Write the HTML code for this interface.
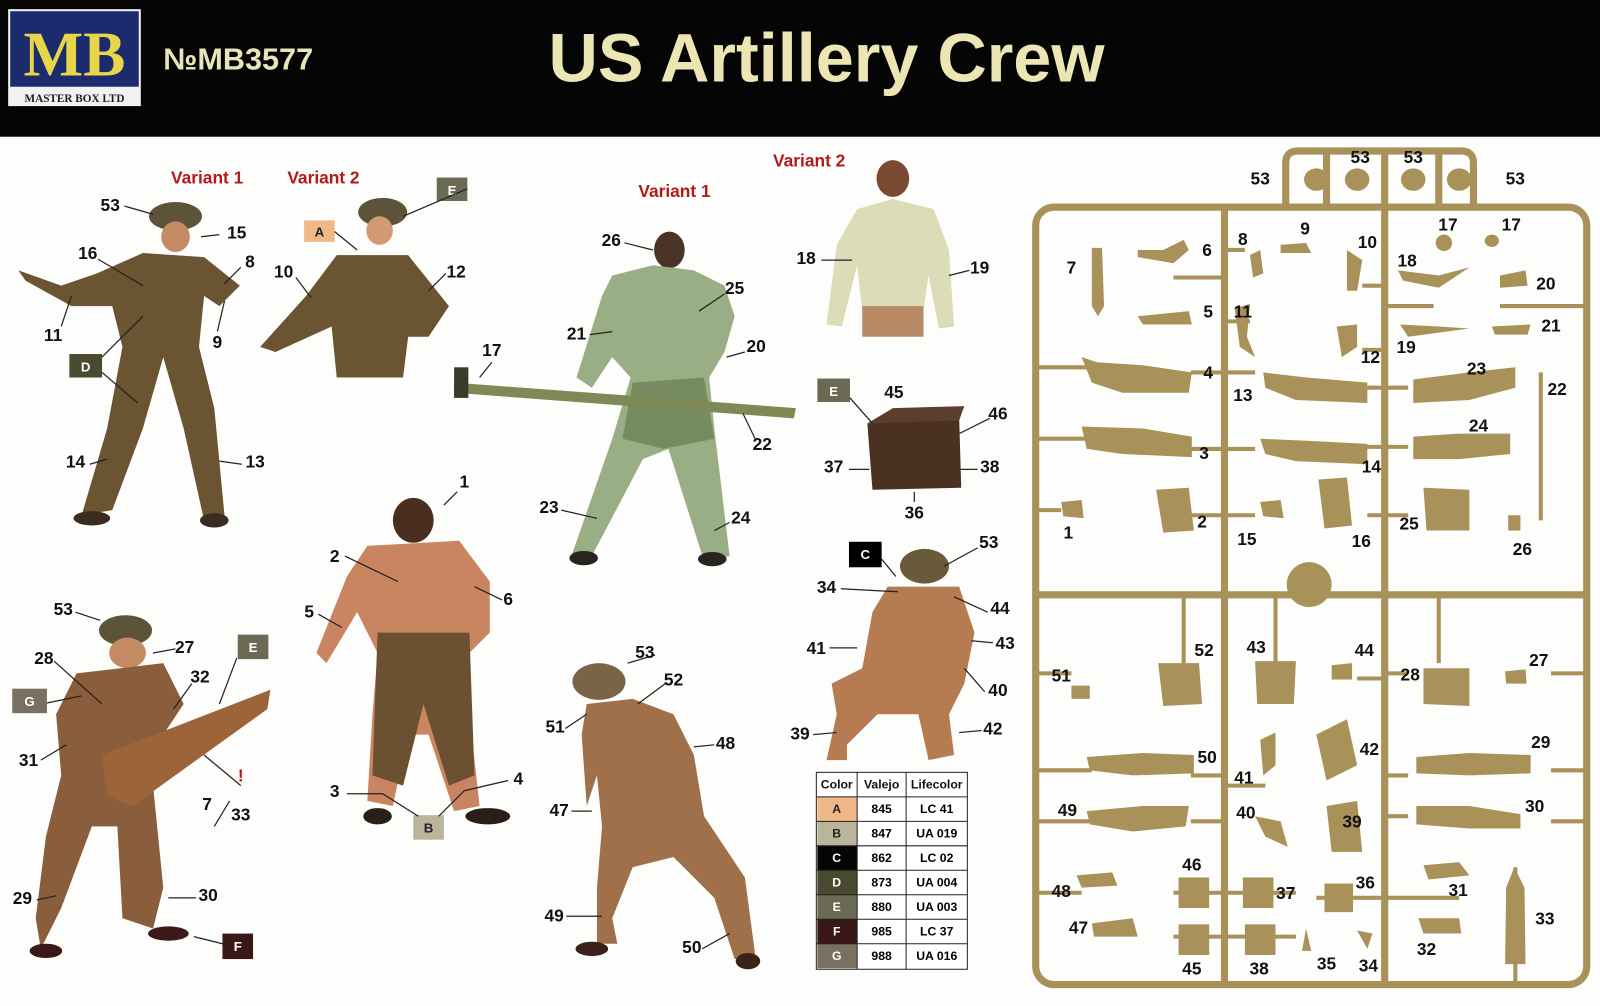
<!DOCTYPE html>
<html><head><meta charset="utf-8"><style>
html,body{margin:0;padding:0;background:#fff;}
svg{display:block;}
text{font-family:"Liberation Sans",sans-serif;font-weight:bold;}
</style></head><body>
<svg width="1600" height="1006" viewBox="0 0 1568 986" preserveAspectRatio="none" xmlns="http://www.w3.org/2000/svg">
<rect width="1568" height="986" fill="#fdfdfb"/>
<!-- header -->
<rect width="1568" height="134" fill="#050505"/>
<rect x="8" y="9" width="130" height="95" fill="#f2f2f2"/>
<rect x="10" y="11" width="126" height="74" fill="#1c2a6e"/>
<text x="73" y="74" font-size="62" fill="#e8d64a" text-anchor="middle" style="font-family:'Liberation Serif',serif">MB</text>
<text x="73" y="100" font-size="11" fill="#1a1a2a" text-anchor="middle" style="font-family:'Liberation Serif',serif">MASTER BOX LTD</text>
<text x="160" y="68" font-size="30" fill="#e8e6b8">№MB3577</text>
<text x="810" y="80" font-size="67" fill="#ece6b4" text-anchor="middle">US Artillery Crew</text>

<!-- variant labels -->
<g fill="#b3191b" font-size="17" text-anchor="middle">
<text x="203" y="180">Variant 1</text><text x="317" y="180">Variant 2</text>
<text x="661" y="193">Variant 1</text><text x="793" y="163">Variant 2</text>
</g>

<!-- figures (approximations) -->
<g>
<ellipse cx="172" cy="212" rx="26" ry="14" fill="#5c5338"/>
<ellipse cx="172" cy="232" rx="14" ry="15" fill="#c48a64"/>
<path d="M18 265 L60 280 L95 268 L140 248 L200 252 L235 280 L215 300 L200 290 L195 340 L210 400 L220 505 L200 510 L180 420 L160 350 L140 420 L110 500 L80 505 L105 420 L120 340 L110 300 L70 300 L25 275Z" fill="#6b5431"/>
<ellipse cx="90" cy="508" rx="18" ry="7" fill="#3a2c20"/><ellipse cx="210" cy="510" rx="14" ry="7" fill="#3a2c20"/>
<ellipse cx="375" cy="208" rx="24" ry="14" fill="#5c5338"/>
<ellipse cx="372" cy="226" rx="13" ry="14" fill="#d19a72"/>
<path d="M255 340 L300 290 L330 250 L400 250 L440 300 L420 330 L400 330 L395 370 L330 370 L325 320 L270 345Z" fill="#6b5431"/>
<ellipse cx="656" cy="245" rx="15" ry="18" fill="#4a3426"/>
<path d="M600 270 L640 260 L680 265 L710 280 L720 310 L710 345 L695 370 L700 420 L715 545 L690 550 L655 440 L630 450 L580 545 L560 545 L600 430 L618 370 L600 350 L580 380 L565 370 L590 290Z" fill="#9aae86"/>
<path d="M620 375 L690 370 L700 430 L650 440 L610 430Z" fill="#768c60"/>
<path d="M445 375 L780 400 L778 410 L445 385Z" fill="#7d8a55"/>
<rect x="445" y="360" width="14" height="30" fill="#3c3a28"/>
<ellipse cx="572" cy="547" rx="14" ry="7" fill="#2a2420"/><ellipse cx="698" cy="548" rx="14" ry="7" fill="#2a2420"/>
<ellipse cx="875" cy="175" rx="16" ry="18" fill="#7a4a32"/>
<path d="M840 205 L875 195 L915 205 L930 245 L935 320 L920 322 L910 270 L905 305 L845 305 L840 260 L825 320 L810 318 L820 240Z" fill="#dcdcb8"/>
<path d="M845 300 L905 300 L905 330 L845 330Z" fill="#b88a64"/>
<path d="M850 415 L940 410 L942 478 L855 480Z" fill="#4a3122"/>
<path d="M850 415 L875 400 L945 398 L940 412Z" fill="#5c3e2c"/>
<ellipse cx="405" cy="510" rx="20" ry="22" fill="#4a2e20"/>
<path d="M360 535 L450 530 L480 570 L480 620 L460 640 L460 700 L470 790 L445 795 L420 720 L400 720 L385 790 L360 785 L365 700 L370 640 L350 600 L320 650 L310 640 L340 565Z" fill="#c98560"/>
<path d="M370 620 L460 620 L465 760 L440 770 L415 690 L395 770 L365 760Z" fill="#6b5132"/>
<ellipse cx="370" cy="800" rx="14" ry="8" fill="#2a1e18"/><ellipse cx="478" cy="800" rx="22" ry="8" fill="#2a1e18"/>
<ellipse cx="123" cy="618" rx="26" ry="15" fill="#5c5338"/>
<ellipse cx="125" cy="640" rx="18" ry="15" fill="#c48a64"/>
<path d="M75 660 L160 650 L180 690 L160 720 L150 770 L160 870 L150 910 L120 900 L115 810 L90 810 L60 890 L40 930 L35 900 L45 820 L60 760 L55 700Z" fill="#8a5e3c"/>
<path d="M100 740 L265 676 L262 695 L130 790 L105 780Z" fill="#9c6438"/>
<ellipse cx="45" cy="932" rx="16" ry="7" fill="#3a1a18"/><ellipse cx="165" cy="915" rx="20" ry="7" fill="#3a1a18"/>
<ellipse cx="587" cy="668" rx="26" ry="18" fill="#7a6448"/>
<path d="M575 690 L620 685 L660 700 L680 740 L690 800 L730 860 L740 935 L720 940 L700 880 L660 840 L620 850 L600 900 L605 925 L585 925 L585 870 L590 810 L585 760 L575 790 L570 720Z" fill="#a0704a"/>
<ellipse cx="580" cy="930" rx="16" ry="7" fill="#3a2218"/><ellipse cx="733" cy="942" rx="12" ry="8" fill="#3a2218"/>
<ellipse cx="906" cy="555" rx="24" ry="17" fill="#6a5a3c"/>
<path d="M870 575 L940 575 L955 620 L945 670 L930 700 L935 740 L910 745 L900 700 L860 700 L830 730 L830 745 L810 745 L820 700 L815 670 L845 655 L855 600Z" fill="#b57c52"/>
</g>

<!-- label boxes -->
<g font-size="13" text-anchor="middle">
<rect x="68" y="347" width="32" height="23" fill="#4a4a30"/><text x="84" y="364" fill="#fff">D</text>
<rect x="298" y="216" width="30" height="21" fill="#f0b888"/><text x="313" y="232" fill="#222">A</text>
<rect x="428" y="174" width="30" height="23" fill="#6b6b55"/><text x="443" y="191" fill="#fff">E</text>
<rect x="801" y="371" width="32" height="23" fill="#6b6b55"/><text x="817" y="388" fill="#fff">E</text>
<rect x="405" y="799" width="30" height="24" fill="#b9b49a"/><text x="420" y="816" fill="#222">B</text>
<rect x="233" y="622" width="30" height="24" fill="#6b6b55"/><text x="248" y="639" fill="#fff">E</text>
<rect x="12" y="675" width="34" height="24" fill="#7a7060"/><text x="29" y="692" fill="#fff">G</text>
<rect x="218" y="915" width="30" height="25" fill="#3a1818"/><text x="233" y="932" fill="#fff">F</text>
<rect x="832" y="531" width="32" height="25" fill="#000"/><text x="848" y="548" fill="#fff">C</text>
</g>

<!-- leader lines -->
<g stroke="#222" stroke-width="1.2" fill="none">
<path d="M122 202 L150 210"/><path d="M197 232 L215 230"/><path d="M96 254 L140 280"/><path d="M236 262 L220 278"/><path d="M60 320 L70 290"/><path d="M213 325 L220 295"/>
<path d="M100 350 L140 310 M100 365 L135 395"/><path d="M88 455 L105 450"/><path d="M237 455 L215 452"/>
<path d="M290 272 L305 292"/><path d="M437 268 L420 285"/><path d="M328 227 L350 245"/><path d="M458 185 L395 212"/>
<path d="M612 238 L640 245"/><path d="M710 288 L685 305"/><path d="M578 328 L600 325"/><path d="M730 345 L712 350"/><path d="M482 355 L470 370"/><path d="M740 430 L728 405"/><path d="M550 500 L585 508"/><path d="M715 512 L700 520"/>
<path d="M805 255 L835 255"/><path d="M950 265 L930 270"/><path d="M833 390 L855 415"/><path d="M970 410 L940 425"/><path d="M832 460 L852 460"/><path d="M958 460 L940 460"/><path d="M896 492 L896 482"/>
<path d="M448 482 L435 495"/><path d="M338 545 L390 570"/><path d="M492 588 L465 575"/><path d="M312 602 L335 615"/><path d="M340 778 L375 778 L410 800"/><path d="M498 765 L455 775 L430 800"/>
<path d="M74 600 L98 608"/><path d="M172 636 L150 640"/><path d="M53 648 L100 690"/><path d="M188 670 L170 695"/><path d="M232 645 L215 690"/><path d="M46 689 L80 682"/><path d="M40 745 L65 730"/><path d="M236 770 L200 740"/><path d="M210 810 L225 785"/><path d="M36 882 L55 878"/><path d="M192 880 L165 880"/><path d="M218 925 L190 918"/>
<path d="M642 642 L615 650"/><path d="M652 670 L625 690"/><path d="M554 714 L575 700"/><path d="M700 730 L680 732"/><path d="M560 795 L580 795"/><path d="M555 898 L590 898"/><path d="M688 930 L715 915"/>
<path d="M864 548 L878 565"/><path d="M958 537 L925 555"/><path d="M824 577 L880 580"/><path d="M968 600 L935 585"/><path d="M813 635 L840 635"/><path d="M973 630 L952 628"/><path d="M965 678 L945 655"/><path d="M797 720 L820 718"/><path d="M962 716 L940 718"/>
</g>

<!-- figure numbers -->
<g font-size="17" fill="#111" text-anchor="middle">
<text x="108" y="207">53</text><text x="232" y="234">15</text><text x="86" y="254">16</text><text x="245" y="262">8</text><text x="52" y="334">11</text><text x="213" y="341">9</text><text x="278" y="272">10</text><text x="447" y="272">12</text><text x="74" y="458">14</text><text x="250" y="458">13</text>
<text x="599" y="241">26</text><text x="720" y="288">25</text><text x="565" y="333">21</text><text x="741" y="345">20</text><text x="482" y="349">17</text><text x="747" y="441">22</text><text x="538" y="503">23</text><text x="726" y="513">24</text>
<text x="790" y="259">18</text><text x="960" y="268">19</text><text x="876" y="390">45</text><text x="978" y="411">46</text><text x="817" y="463">37</text><text x="970" y="463">38</text><text x="896" y="508">36</text>
<text x="455" y="478">1</text><text x="328" y="551">2</text><text x="498" y="593">6</text><text x="303" y="605">5</text><text x="328" y="781">3</text><text x="508" y="769">4</text>
<text x="62" y="603">53</text><text x="181" y="640">27</text><text x="43" y="651">28</text><text x="196" y="669">32</text><text x="28" y="751">31</text><text x="236" y="766" fill="#c01818">!</text><text x="203" y="794">7</text><text x="236" y="804">33</text><text x="22" y="886">29</text><text x="204" y="883">30</text>
<text x="632" y="645">53</text><text x="660" y="672">52</text><text x="544" y="718">51</text><text x="711" y="734">48</text><text x="548" y="800">47</text><text x="543" y="903">49</text><text x="678" y="934">50</text>
<text x="969" y="537">53</text><text x="810" y="581">34</text><text x="980" y="602">44</text><text x="800" y="641">41</text><text x="985" y="636">43</text><text x="978" y="682">40</text><text x="784" y="725">39</text><text x="973" y="720">42</text>
</g>

<!-- color table -->
<g font-size="12" text-anchor="middle">
<rect x="800" y="757" width="148" height="193" fill="#fff" stroke="#222" stroke-width="1"/>
<g fill="#111"><text x="820" y="773">Color</text><text x="864" y="773">Valejo</text><text x="918" y="773">Lifecolor</text></g>
<rect x="801" y="781" width="39" height="24" fill="#f0b888"/>
<rect x="801" y="805" width="39" height="24" fill="#b9b49a"/>
<rect x="801" y="829" width="39" height="24" fill="#050505"/>
<rect x="801" y="853" width="39" height="24" fill="#4a4a30"/>
<rect x="801" y="877" width="39" height="24" fill="#6b6b55"/>
<rect x="801" y="901" width="39" height="24" fill="#3a1818"/>
<rect x="801" y="925" width="39" height="24" fill="#7a7060"/>
<g stroke="#222" stroke-width="1">
<line x1="840" y1="757" x2="840" y2="950"/><line x1="888" y1="757" x2="888" y2="950"/>
<line x1="800" y1="781" x2="948" y2="781"/><line x1="800" y1="805" x2="948" y2="805"/><line x1="800" y1="829" x2="948" y2="829"/><line x1="800" y1="853" x2="948" y2="853"/><line x1="800" y1="877" x2="948" y2="877"/><line x1="800" y1="901" x2="948" y2="901"/><line x1="800" y1="925" x2="948" y2="925"/>
</g>
<text x="820" y="797" fill="#222">A</text><text x="864" y="797">845</text><text x="918" y="797">LC 41</text>
<text x="820" y="821" fill="#222">B</text><text x="864" y="821">847</text><text x="918" y="821">UA 019</text>
<text x="820" y="845" fill="#fff">C</text><text x="864" y="845">862</text><text x="918" y="845">LC 02</text>
<text x="820" y="869" fill="#fff">D</text><text x="864" y="869">873</text><text x="918" y="869">UA 004</text>
<text x="820" y="893" fill="#fff">E</text><text x="864" y="893">880</text><text x="918" y="893">UA 003</text>
<text x="820" y="917" fill="#fff">F</text><text x="864" y="917">985</text><text x="918" y="917">LC 37</text>
<text x="820" y="941" fill="#fff">G</text><text x="864" y="941">988</text><text x="918" y="941">UA 016</text>
</g>

<!-- sprue -->
<g fill="none" stroke="#a8925a" stroke-width="7">
<rect x="1015" y="203" width="540" height="762" rx="18"/>
<path d="M1260 203 L1260 160 Q1260 148 1272 148 L1432 148 Q1444 148 1444 160 L1444 203"/>
<line x1="1200" y1="203" x2="1200" y2="965"/><line x1="1357" y1="148" x2="1357" y2="965"/>
<line x1="1015" y1="583" x2="1555" y2="583"/>
<line x1="1300" y1="150" x2="1300" y2="203"/><line x1="1410" y1="150" x2="1410" y2="203"/>
</g>
<g fill="none" stroke="#a8925a" stroke-width="4">
<line x1="1015" y1="360" x2="1070" y2="360"/><line x1="1015" y1="430" x2="1070" y2="430"/><line x1="1015" y1="500" x2="1040" y2="500"/>
<line x1="1150" y1="272" x2="1200" y2="272"/><line x1="1200" y1="245" x2="1220" y2="245"/><line x1="1200" y1="315" x2="1225" y2="315"/><line x1="1200" y1="365" x2="1230" y2="365"/><line x1="1200" y1="440" x2="1230" y2="440"/><line x1="1200" y1="505" x2="1230" y2="505"/>
<line x1="1167" y1="365" x2="1200" y2="365"/><line x1="1167" y1="440" x2="1200" y2="440"/><line x1="1167" y1="505" x2="1200" y2="505"/>
<line x1="1335" y1="280" x2="1357" y2="280"/><line x1="1335" y1="343" x2="1357" y2="343"/><line x1="1340" y1="380" x2="1380" y2="380"/><line x1="1340" y1="438" x2="1380" y2="438"/><line x1="1340" y1="505" x2="1380" y2="505"/>
<line x1="1357" y1="300" x2="1405" y2="300"/><line x1="1470" y1="300" x2="1555" y2="300"/>
<line x1="1160" y1="583" x2="1160" y2="650"/><line x1="1250" y1="583" x2="1250" y2="650"/><line x1="1410" y1="583" x2="1410" y2="650"/>
<line x1="1015" y1="660" x2="1050" y2="660"/><line x1="1015" y1="755" x2="1070" y2="755"/><line x1="1015" y1="805" x2="1070" y2="805"/><line x1="1015" y1="875" x2="1060" y2="875"/>
<line x1="1167" y1="760" x2="1200" y2="760"/><line x1="1167" y1="805" x2="1200" y2="805"/><line x1="1200" y1="770" x2="1240" y2="770"/>
<line x1="1357" y1="665" x2="1330" y2="665"/><line x1="1357" y1="760" x2="1380" y2="760"/><line x1="1357" y1="800" x2="1380" y2="800"/><line x1="1357" y1="660" x2="1380" y2="660"/>
<line x1="1520" y1="660" x2="1555" y2="660"/><line x1="1520" y1="755" x2="1555" y2="755"/><line x1="1520" y1="805" x2="1555" y2="805"/>
<line x1="1150" y1="875" x2="1270" y2="875"/><line x1="1150" y1="918" x2="1270" y2="918"/><line x1="1290" y1="880" x2="1357" y2="880"/>
<line x1="1357" y1="880" x2="1430" y2="880"/><line x1="1485" y1="850" x2="1485" y2="965"/>
<line x1="1510" y1="365" x2="1510" y2="510"/>
</g>
<g fill="#a8925a">
<circle cx="1283" cy="573" r="22"/>
<ellipse cx="1290" cy="176" rx="12" ry="11"/><ellipse cx="1330" cy="176" rx="12" ry="11"/><ellipse cx="1385" cy="176" rx="12" ry="11"/><ellipse cx="1430" cy="176" rx="12" ry="11"/>
<ellipse cx="1415" cy="238" rx="8" ry="8"/><ellipse cx="1462" cy="236" rx="7" ry="6"/>
<path d="M1070 243 L1080 243 L1082 300 L1076 310 L1070 300Z"/>
<path d="M1115 245 L1140 245 L1160 235 L1165 245 L1150 258 L1115 252Z"/><path d="M1115 310 L1165 305 L1168 318 L1120 318Z"/>
<path d="M1225 250 L1235 245 L1238 268 L1228 272Z"/><path d="M1255 240 L1280 238 L1285 248 L1255 248Z"/>
<path d="M1320 245 L1335 255 L1330 285 L1320 285Z"/><path d="M1210 302 L1225 298 L1222 330 L1230 350 L1215 340Z"/><path d="M1310 320 L1330 318 L1330 340 L1315 350Z"/>
<path d="M1370 265 L1410 270 L1440 262 L1410 282 L1375 275Z"/><path d="M1372 318 L1410 320 L1440 322 L1380 330Z"/>
<path d="M1470 270 L1495 265 L1497 280 L1470 282Z"/><path d="M1462 320 L1500 318 L1497 328 L1465 328Z"/>
<path d="M1060 350 L1075 355 L1120 358 L1168 365 L1165 385 L1100 385 L1070 375Z"/>
<path d="M1060 418 L1120 420 L1168 428 L1168 448 L1100 445 L1065 440Z"/>
<path d="M1238 365 L1280 370 L1340 375 L1340 395 L1270 392 L1240 380Z"/>
<path d="M1235 430 L1280 432 L1340 435 L1340 455 L1270 452 L1240 445Z"/>
<path d="M1385 372 L1440 365 L1485 360 L1485 380 L1440 392 L1385 395Z"/>
<path d="M1385 428 L1430 425 L1480 425 L1480 445 L1430 450 L1385 450Z"/>
<path d="M1040 492 L1060 490 L1062 508 L1042 506Z"/><path d="M1133 480 L1165 478 L1170 520 L1140 522Z"/>
<path d="M1235 492 L1255 490 L1258 508 L1238 506Z"/><path d="M1292 470 L1320 468 L1325 515 L1298 518Z"/><path d="M1395 478 L1440 480 L1440 520 L1398 520Z"/>
<path d="M1478 505 L1490 505 L1490 520 L1478 520Z"/>
<path d="M1135 650 L1175 650 L1178 690 L1140 692Z"/><path d="M1230 648 L1270 648 L1268 690 L1232 690Z"/>
<path d="M1395 655 L1440 655 L1440 692 L1395 690Z"/>
<path d="M1305 652 L1325 650 L1325 666 L1305 666Z"/><path d="M1050 672 L1068 672 L1068 685 L1050 685Z"/><path d="M1475 658 L1495 656 L1496 670 L1476 670Z"/>
<path d="M1065 742 L1120 738 L1170 740 L1170 758 L1110 760 L1068 755Z"/>
<path d="M1065 795 L1120 790 L1165 790 L1162 810 L1110 815 L1068 808Z"/>
<path d="M1388 742 L1440 738 L1500 740 L1500 758 L1440 760 L1388 758Z"/>
<path d="M1388 790 L1440 790 L1490 798 L1490 812 L1440 812 L1388 808Z"/>
<path d="M1290 720 L1320 705 L1330 750 L1300 765Z"/><path d="M1235 725 L1250 718 L1250 750 L1238 760Z"/><path d="M1230 800 L1255 805 L1262 830 L1240 820Z"/>
<path d="M1300 790 L1330 785 L1335 835 L1305 835Z"/>
<path d="M1055 858 L1090 855 L1095 868 L1060 870Z"/><path d="M1070 905 L1110 900 L1115 918 L1072 918Z"/>
<rect x="1155" y="860" width="30" height="30"/><rect x="1218" y="860" width="30" height="30"/><rect x="1155" y="906" width="30" height="30"/><rect x="1220" y="906" width="30" height="30"/>
<rect x="1298" y="866" width="28" height="28"/>
<path d="M1395 848 L1430 845 L1440 858 L1400 862Z"/><path d="M1390 900 L1430 900 L1432 915 L1395 915Z"/>
<path d="M1484 850 L1494 870 L1495 945 L1475 945 L1476 870Z"/>
<path d="M1280 910 L1285 932 L1276 932Z"/><path d="M1330 912 L1345 915 L1340 930Z"/>
</g>
<g font-size="17" fill="#111" text-anchor="middle">
<text x="1235" y="181">53</text><text x="1333" y="160">53</text><text x="1385" y="160">53</text><text x="1485" y="181">53</text>
<text x="1050" y="268">7</text><text x="1183" y="251">6</text><text x="1218" y="240">8</text><text x="1279" y="230">9</text><text x="1340" y="243">10</text><text x="1419" y="226">17</text><text x="1481" y="226">17</text><text x="1379" y="261">18</text><text x="1515" y="284">20</text>
<text x="1184" y="311">5</text><text x="1218" y="311">11</text><text x="1343" y="356">12</text><text x="1378" y="346">19</text><text x="1520" y="325">21</text>
<text x="1184" y="371">4</text><text x="1218" y="393">13</text><text x="1447" y="367">23</text><text x="1526" y="387">22</text><text x="1180" y="450">3</text><text x="1344" y="463">14</text><text x="1449" y="423">24</text>
<text x="1047" y="528">1</text><text x="1178" y="517">2</text><text x="1222" y="534">15</text><text x="1334" y="536">16</text><text x="1381" y="519">25</text><text x="1492" y="544">26</text>
<text x="1180" y="643">52</text><text x="1231" y="640">43</text><text x="1337" y="643">44</text><text x="1382" y="667">28</text><text x="1508" y="653">27</text><text x="1040" y="668">51</text>
<text x="1183" y="748">50</text><text x="1342" y="740">42</text><text x="1510" y="733">29</text><text x="1219" y="768">41</text><text x="1046" y="800">49</text><text x="1221" y="802">40</text><text x="1325" y="811">39</text><text x="1504" y="796">30</text>
<text x="1168" y="853">46</text><text x="1338" y="871">36</text><text x="1260" y="881">37</text><text x="1429" y="878">31</text><text x="1040" y="879">48</text><text x="1514" y="906">33</text><text x="1057" y="915">47</text>
<text x="1168" y="955">45</text><text x="1234" y="955">38</text><text x="1300" y="950">35</text><text x="1341" y="952">34</text><text x="1398" y="936">32</text>
</g>
</svg>
</body></html>
